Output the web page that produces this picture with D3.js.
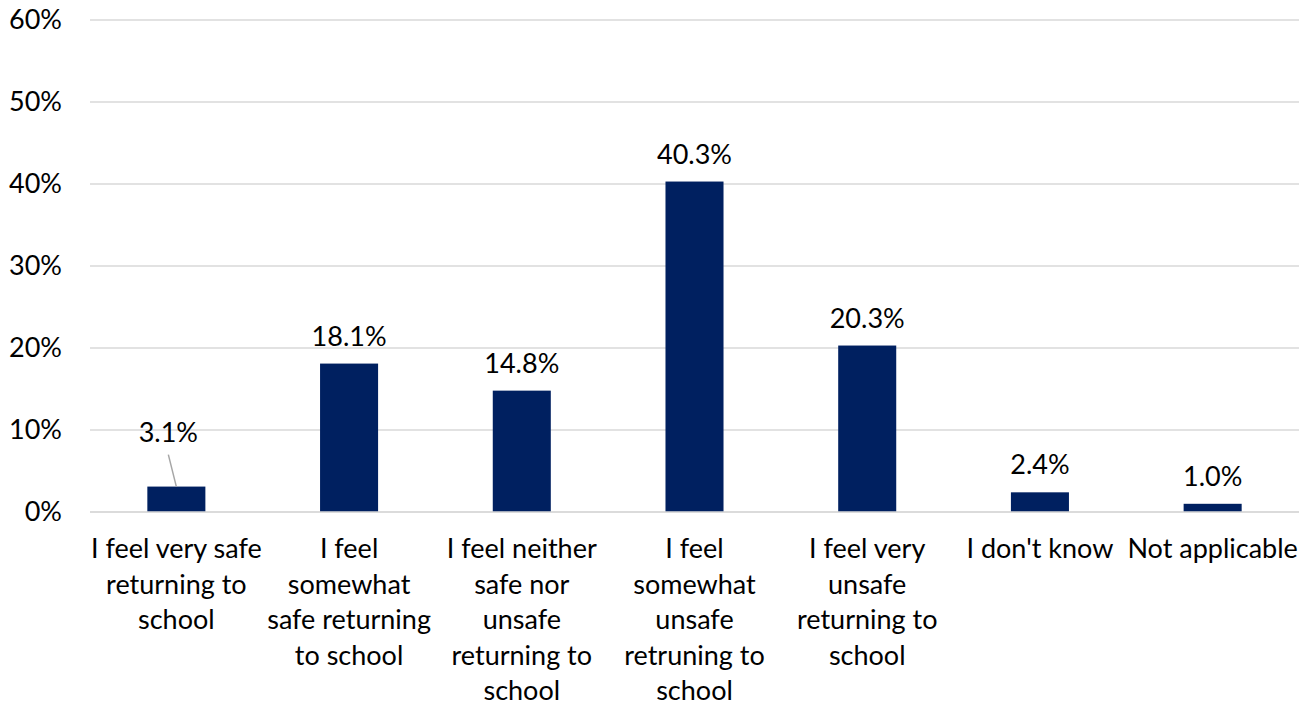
<!DOCTYPE html>
<html>
<head>
<meta charset="utf-8">
<script src="https://cdn.jsdelivr.net/npm/d3@7"></script>
<style>
  body { margin: 0; background: #fff; }
  svg text { font-family: Lato, "Open Sans", sans-serif; fill: #000; }
</style>
</head>
<body>
<svg width="1314" height="706"></svg>
<script>
// category labels, already split in lines as in the original
var categories = [
	['I feel very safe', 'returning to', 'school'],
	['I feel', 'somewhat', 'safe returning', 'to school'],
	['I feel neither', 'safe nor', 'unsafe', 'returning to', 'school'],
	['I feel', 'somewhat', 'unsafe', 'retruning to', 'school'],
	['I feel very', 'unsafe', 'returning to', 'school'],
	["I don't know"],
	['Not applicable']
];
var values = [3.1, 18.1, 14.8, 40.3, 20.3, 2.4, 1.0];
var yTicks = [0, 10, 20, 30, 40, 50, 60];

var fontSize = '27px';

var svg = d3.select('svg'),
	plotLeft = 90, plotRight = 1299,
	plotTop = 20, plotBottom = 512;

var x = d3.scaleBand()
	.domain(d3.range(values.length))
	.range([plotLeft, plotRight])
	.padding(0);

var y = d3.scaleLinear()
	.domain([0, 60])
	.range([plotBottom, plotTop]);

var barW = x.bandwidth() * 0.336;

// gridlines
svg.append('g')
	.selectAll('line')
	.data(yTicks)
	.enter().append('line')
	.attr('x1', plotLeft).attr('x2', plotRight)
	.attr('y1', function(d) { return y(d); })
	.attr('y2', function(d) { return y(d); })
	.attr('stroke', '#d9d9d9')
	.attr('stroke-width', 1.5);

// y axis labels
var yAxis = d3.axisLeft(y)
	.tickValues(yTicks)
	.tickSize(0)
	.tickPadding(28)
	.tickFormat(function(d) { return d + '%'; });

var ya = svg.append('g')
	.attr('transform', 'translate(' + plotLeft + ',0)')
	.call(yAxis);
ya.select('.domain').remove();
ya.selectAll('text')
	.style('font-size', fontSize)
	.style('font-family', 'Lato, "Open Sans", sans-serif')
	.attr('fill', '#000');

// bars
svg.append('g')
	.selectAll('rect')
	.data(values)
	.enter().append('rect')
	.attr('x', function(d, i) { return x(i) + (x.bandwidth() - barW) / 2; })
	.attr('y', function(d) { return y(d); })
	.attr('width', barW)
	.attr('height', function(d) { return plotBottom - y(d); })
	.attr('fill', '#002060');

// baseline over bars
svg.append('line')
	.attr('x1', plotLeft).attr('x2', plotRight)
	.attr('y1', plotBottom).attr('y2', plotBottom)
	.attr('stroke', '#d9d9d9')
	.attr('stroke-width', 1.5);

// value labels; the first one is moved up with a leader line
var cx = function(i) { return x(i) + x.bandwidth() / 2; };
var labelY = function(d, i) { return i === 0 ? y(d) - 45 : y(d) - 18; };

svg.append('line')
	.attr('x1', cx(0) - 8).attr('y1', labelY(values[0], 0) + 13)
	.attr('x2', cx(0)).attr('y2', y(values[0]))
	.attr('stroke', '#a6a6a6')
	.attr('stroke-width', 1.5);

svg.append('g')
	.selectAll('text')
	.data(values)
	.enter().append('text')
	.attr('x', function(d, i) { return i === 0 ? cx(i) - 8 : cx(i); })
	.attr('y', labelY)
	.attr('text-anchor', 'middle')
	.style('font-size', fontSize)
	.text(function(d) { return d.toFixed(1) + '%'; });

// category labels
var cats = svg.append('g')
	.selectAll('text')
	.data(categories)
	.enter().append('text')
	.attr('text-anchor', 'middle')
	.style('font-size', fontSize);

cats.selectAll('tspan')
	.data(function(d, i) { return d.map(function(s) { return { s: s, i: i }; }); })
	.enter().append('tspan')
	.attr('x', function(d) { return cx(d.i); })
	.attr('y', function(d, j) { return 558 + j * 35.5; })
	.text(function(d) { return d.s; });
</script>
</body>
</html>
